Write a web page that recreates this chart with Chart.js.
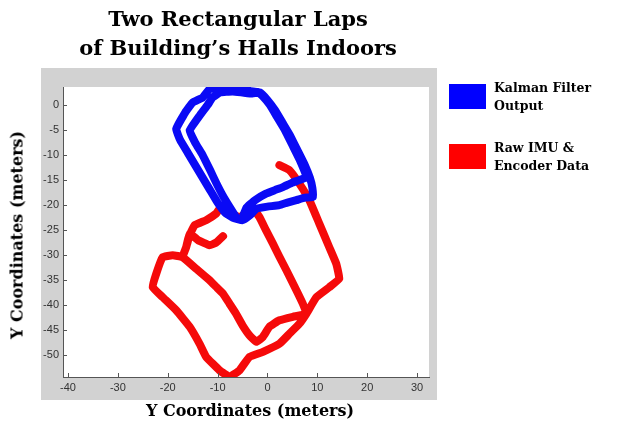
<!DOCTYPE html>
<html>
<head>
<meta charset="utf-8">
<script src="https://cdn.jsdelivr.net/npm/chart.js@4.4.1/dist/chart.umd.min.js"></script>
<style>
  body { margin: 0; background: #fff; }
  #wrap { position: relative; width: 634px; height: 424px; overflow: hidden; }
  #myChart { position: absolute; left: 0; top: 0; }
  .serif { position: absolute; font-family: "DejaVu Serif", serif; font-weight: bold; color: #000; white-space: nowrap; }
  #title { left: 38px; top: 4px; width: 400px; text-align: center; font-size: 21px; line-height: 29px; }
  #xlabel { left: 50px; top: 401px; width: 400px; text-align: center; font-size: 16px; }
  #ylabel { left: 17px; top: 235px; font-size: 16px; transform: translate(-50%, -50%) rotate(-90deg); }
  .swatch { position: absolute; left: 449px; width: 37px; height: 25px; }
  .legtext { left: 494px; font-size: 12.5px; line-height: 18px; }
</style>
</head>
<body>
<div id="wrap">
  <canvas id="myChart" width="634" height="424"></canvas>
  <div id="title" class="serif">Two Rectangular Laps<br>of Building’s Halls Indoors</div>
  <div id="ylabel" class="serif">Y Coordinates (meters)</div>
  <div id="xlabel" class="serif">Y Coordinates (meters)</div>
  <div class="swatch" style="top:84px; background:#0000ff;"></div>
  <div class="serif legtext" style="top:79px;">Kalman Filter<br>Output</div>
  <div class="swatch" style="top:144px; background:#ff0000;"></div>
  <div class="serif legtext" style="top:139px;">Raw IMU &amp;<br>Encoder Data</div>
</div>
<script>
// Salida del filtro de Kalman (dos vueltas)
const kalmanX = [-5, -4.2, -2.5, -0.3, 1.5, 3.1, 5, 6.4, 7.8,
    6.5, 5, 3.5, 2, 0.5, -1, -2, -3.5, -5.6, -7.5, -9, -11.5,
    -13, -15, -16.5, -18.3, -17.5, -16, -14.5, -13, -11.5, -10, -8.5, -7, -5,
    -3.5, -2.2, 0, 2.4, 4, 5.8, 7.5, 9.1,
    9, 8.5, 7.5, 6, 4.5, 3, 1.5, 0, -1.5, -3, -5, -7, -9.5,
    -11, -12, -13.5, -15.6, -14.5, -13, -11.5, -10.3, -9, -7.5, -6.3];
const kalmanY = [-22.5, -20.5, -19, -17.7, -17, -16.4, -15.5, -15, -14.4,
    -11, -8, -5, -2.5, 0, 1.8, 2.6, 2.8, 3.6, 3, 3.2, 3.3,
    1.5, 0.5, -1.5, -4.8, -7, -9.5, -12, -14.5, -17, -19.5, -21.5, -22.5, -23,
    -22, -20.7, -20.3, -20, -19.5, -19, -18.5, -18.4,
    -16.5, -14.5, -12, -9, -6, -3.5, -1, 1, 2.5, 2.3, 2.5, 2.7, 2.5,
    1.5, 0, -2, -5.1, -7.5, -10, -13, -15.5, -18, -20.5, -22.4];

// Datos crudos de IMU y encoder
const rawX = [-8.9, -10.3, -11.6, -13.9, -15.6, -16.3, -17, -16.3, -15.6,
    -14.6, -12.3, -10.3, -9.6, -8.5, -5.6, -2.9,
    -1.6, -0.3, 1.1, 2.4, 3.8, 5.8, 7.1, 7.8,
    5.1, 2.4, 0.4, -0.9, -2.2,
    -3.6, -5, -6.3, -7.6, -8.9, -10.3, -11.6, -14.3, -17,
    -19, -21, -22.3, -23, -21, -18.3, -15.6, -13.6, -12.3, -9.6, -7.6,
    -5.6, -3.6, -0.9, 2.4, 4.4, 6.4, 7.8,
    9.8, 12.4, 14.4, 13.8, 12.4, 10.4, 8.4, 6.4, 4.4, 2.4];
const rawY = [-26.2, -27.5, -28, -27, -25.7, -28.4, -30.2, -28.4, -26,
    -24, -23, -21.7, -20.7, -21, -22.4, -20.7,
    -22.4, -25, -27.7, -30.3, -33, -37, -39.7, -41.7,
    -42.3, -43, -44.3, -46.3, -47.3,
    -46, -44, -41.7, -39.7, -37.7, -36.3, -35, -32.7, -30.4,
    -30, -30.4, -33.7, -36.4, -38.4, -41, -44.3, -47.7, -50.3, -53, -54.3,
    -53, -50.3, -49.3, -47.7, -45.7, -43.7, -41.7,
    -38.4, -36.4, -34.7, -31.7, -28.4, -23.7, -19, -15.7, -13, -12];

const xTicks = [-40, -30, -20, -10, 0, 10, 20, 30];
const yTicks = [0, -5, -10, -15, -20, -25, -30, -35, -40, -45, -50];

function toPoints(xs, ys) {
    return xs.map((x, i) => ({ x: x, y: ys[i] }));
}

// Fondo gris de la figura y area blanca de los ejes, mas las marcas hacia dentro
const figurePanel = {
    id: 'figurePanel',
    beforeDraw(chart) {
        const ctx = chart.ctx;
        const a = chart.chartArea;
        ctx.save();
        ctx.fillStyle = '#d2d2d2';
        ctx.fillRect(41, 68, 396, 332);
        ctx.fillStyle = '#ffffff';
        ctx.fillRect(a.left, a.top, a.right - a.left, a.bottom - a.top);
        ctx.restore();
    },
    afterDraw(chart) {
        const ctx = chart.ctx;
        const a = chart.chartArea;
        const xs = chart.scales.x;
        const ys = chart.scales.y;
        ctx.save();
        ctx.strokeStyle = '#555';
        ctx.lineWidth = 1;
        ctx.beginPath();
        xTicks.forEach(v => {
            const p = Math.round(xs.getPixelForValue(v)) + 0.5;
            ctx.moveTo(p, a.bottom);
            ctx.lineTo(p, a.bottom - 4);
        });
        yTicks.forEach(v => {
            const p = Math.round(ys.getPixelForValue(v)) + 0.5;
            ctx.moveTo(a.left, p);
            ctx.lineTo(a.left + 4, p);
        });
        ctx.stroke();
        ctx.restore();
    }
};

const ctx = document.getElementById('myChart').getContext('2d');
const myChart = new Chart(ctx, {
    type: 'scatter',
    data: {
        datasets: [{
            label: 'Kalman Filter Output',
            data: toPoints(kalmanX, kalmanY),
            showLine: true,
            borderColor: '#0a0af5',
            borderWidth: 8,
            borderJoinStyle: 'round',
            borderCapStyle: 'round',
            pointRadius: 0,
            tension: 0.1
        }, {
            label: 'Raw IMU & Encoder Data',
            data: toPoints(rawX, rawY),
            showLine: true,
            borderColor: '#f50a0a',
            borderWidth: 8,
            borderJoinStyle: 'round',
            borderCapStyle: 'round',
            pointRadius: 0,
            tension: 0.1
        }]
    },
    options: {
        responsive: false,
        animation: false,
        layout: {
            padding: { left: 0, top: 87, right: 205, bottom: 0 }
        },
        plugins: {
            legend: { display: false },
            tooltip: { enabled: false }
        },
        scales: {
            x: {
                type: 'linear',
                min: -41,
                max: 32.4,
                afterFit: scale => { scale.height = 47; },
                afterBuildTicks: scale => { scale.ticks = xTicks.map(v => ({ value: v })); },
                grid: { drawOnChartArea: false, drawTicks: false },
                border: { display: true, color: '#555' },
                ticks: {
                    padding: 4,
                    color: '#333',
                    font: { family: 'Liberation Sans', size: 11 }
                }
            },
            y: {
                type: 'linear',
                min: -54.33,
                max: 3.6,
                afterFit: scale => { scale.width = 63; },
                afterBuildTicks: scale => { scale.ticks = yTicks.map(v => ({ value: v })); },
                grid: { drawOnChartArea: false, drawTicks: false },
                border: { display: true, color: '#555' },
                ticks: {
                    padding: 4,
                    color: '#333',
                    font: { family: 'Liberation Sans', size: 11 }
                }
            }
        }
    },
    plugins: [figurePanel]
});
</script>
</body>
</html>
